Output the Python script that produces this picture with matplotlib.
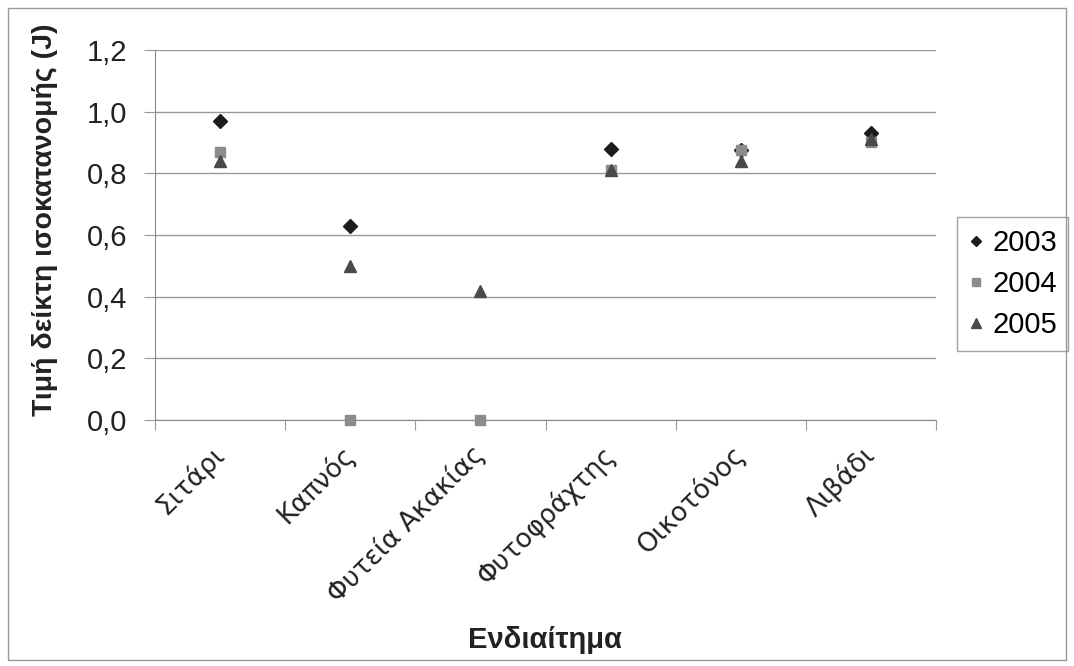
import matplotlib
matplotlib.use("Agg")
import matplotlib.pyplot as plt
from matplotlib.patches import Rectangle
from matplotlib.transforms import ScaledTranslation

plt.rcParams["font.family"] = ["Liberation Sans", "DejaVu Sans"]

habitats = ["Σιτάρι", "Καπνός", "Φυτεία Ακακίας", "Φυτοφράχτης", "Οικοτόνος", "Λιβάδι"]
years = ["2003", "2004", "2005"]
vals_2003 = [0.97, 0.63, None, 0.88, 0.875, 0.93]
vals_2004 = [0.87, 0.0, 0.0, 0.81, 0.875, 0.90]
vals_2005 = [0.84, 0.50, 0.42, 0.81, 0.84, 0.91]
series = [vals_2003, vals_2004, vals_2005]
markers = ["D", "s", "^"]
colors = ["#1c1c1c", "#8c8c8c", "#4a4a4a"]
sizes = [7, 7, 9]

fig = plt.figure(figsize=(10.74, 6.66), dpi=100)
ax = fig.add_axes([155 / 1074, 246 / 666, 781 / 1074, 370 / 666])

x = list(range(len(habitats)))
for name, vals, m, c, s in zip(years, series, markers, colors, sizes):
    xs = [xi for xi, v in zip(x, vals) if v is not None]
    ys = [v for v in vals if v is not None]
    ax.plot(xs, ys, linestyle="none", marker=m, color=c, markersize=s,
            label=name, zorder=3, clip_on=False)

ax.set_xlim(-0.5, len(habitats) - 0.5)
ax.set_ylim(0, 1.2)
yticks = [0.0, 0.2, 0.4, 0.6, 0.8, 1.0, 1.2]
ax.set_yticks(yticks)
ax.set_yticklabels([f"{v:.1f}".replace(".", ",") for v in yticks], fontsize=21,
                   color="#222222")
ax.yaxis.grid(True, color="#9a9a9a", linewidth=1)
ax.set_axisbelow(True)

# category boundaries as major ticks, labels at centres as minor ticks
ax.set_xticks([i + 0.5 for i in range(-1, len(habitats))])
ax.set_xticklabels([])
ax.set_xticks(x, minor=True)
ax.set_xticklabels(habitats, minor=True, rotation=45, ha="right", va="center",
                   rotation_mode="anchor", fontsize=19, family="DejaVu Sans",
                   color="#222222")
shift = ScaledTranslation(-8 / 100, 6 / 100, fig.dpi_scale_trans)
for lbl in ax.get_xticklabels(minor=True):
    lbl.set_transform(lbl.get_transform() + shift)
ax.tick_params(axis="x", which="minor", length=0, pad=22)
ax.tick_params(axis="x", which="major", length=7, color="#999999", direction="out")
ax.tick_params(axis="y", length=8, color="#999999", direction="out", pad=12)

for side in ("top", "right"):
    ax.spines[side].set_visible(False)
for side in ("left", "bottom"):
    ax.spines[side].set_color("#888888")

ax.set_ylabel("Τιμή δείκτη ισοκατανομής (J)", fontsize=20.5, fontweight="bold",
              color="#222222")
ax.yaxis.set_label_coords(-97 / 781, 0.54)
fig.text(545 / 1074, 1 - 640 / 666, "Ενδιαίτημα", fontsize=21, fontweight="bold",
         ha="center", va="center", color="#222222")

leg = ax.legend(loc="center left", bbox_to_anchor=(802 / 781, 136 / 370), fontsize=21,
                frameon=True, fancybox=False, edgecolor="#888888",
                handletextpad=0.3, handlelength=0.5, borderpad=0.4,
                labelspacing=0.45, markerscale=0.75, borderaxespad=0)
leg.get_frame().set_linewidth(1)

fig.patches.append(Rectangle((8 / 1074, 6 / 666), 1058 / 1074, 652 / 666,
                             transform=fig.transFigure, fill=False,
                             edgecolor="#999999", linewidth=1))

fig.savefig("out.png", dpi=100)
